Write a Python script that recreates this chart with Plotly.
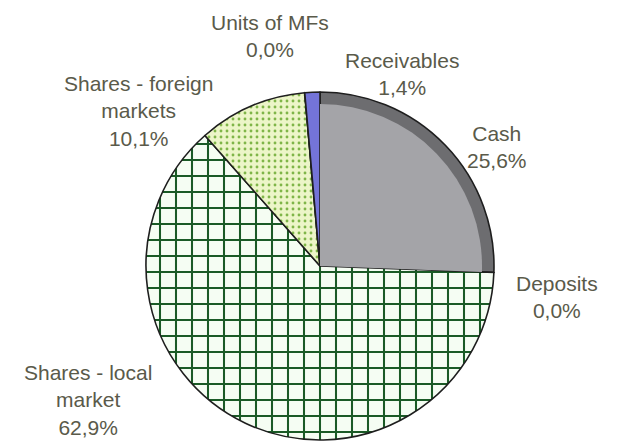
import plotly.graph_objects as go

# ---- data ----
categories = ["Cash", "Deposits", "Shares - local market", "Shares - foreign markets",
              "Units of MFs", "Receivables"]
label_text = ["Cash", "Deposits", "Shares - local<br>market", "Shares - foreign<br>markets",
              "Units of MFs", "Receivables"]
values = [25.6, 0.0, 62.9, 10.1, 0.0, 1.4]

# ---- styling ----
OFF = 8                      # default page body margin
W, H = 619 - OFF, 446 - OFF
CX, CY, R = 320 - OFF, 266 - OFF, 174
R_IN = 162

base_colors = ["#6d6d70", "#a0a0a4", "#f5fdf3", "#ecf5c8", "#a0a0a4", "#7474d8"]
pat_shape = ["", "", "+", ".", "", ""]
pat_fg = ["#6d6d70", "#a0a0a4", "#1a5a26", "#7fb548", "#a0a0a4", "#7474d8"]
pat_bg = ["#6d6d70", "#a0a0a4", "#f5fdf3", "#ecf5c8", "#a0a0a4", "#7474d8"]
pat_size = [8, 8, 16, 6, 8, 8]
pat_sol = [0.2, 0.2, 0.24, 0.18, 0.2, 0.2]

inner_colors = ["#a4a4a8", "rgba(0,0,0,0)", "rgba(0,0,0,0)", "rgba(0,0,0,0)",
                "rgba(0,0,0,0)", "rgba(0,0,0,0)"]

# label centres in page pixels (layout only)
label_pos = [(497, 147), (557, 297), (88, 400), (138, 111), (270, 36), (402, 74)]


def dom(r):
    return dict(x=[(CX - r) / W, (CX + r) / W],
                y=[(H - CY - r) / H, (H - CY + r) / H])


fig = go.Figure()
fig.add_trace(go.Pie(
    labels=categories, values=values, sort=False, direction="clockwise", rotation=0,
    textinfo="none", hoverinfo="label+percent", showlegend=False,
    domain=dom(R),
    marker=dict(colors=base_colors, line=dict(color="#1e1e1e", width=1.6),
                pattern=dict(shape=pat_shape, fgcolor=pat_fg, bgcolor=pat_bg,
                             size=pat_size, solidity=pat_sol, fillmode="replace")),
))
# lighter inner face of the cash slice (3D rim effect)
fig.add_trace(go.Pie(
    labels=categories, values=values, sort=False, direction="clockwise", rotation=0,
    textinfo="none", hoverinfo="skip", showlegend=False,
    domain=dom(R_IN),
    marker=dict(colors=inner_colors, line=dict(width=0)),
))

for name, v, (px, py) in zip(label_text, values, label_pos):
    pct = f"{v:.1f}".replace(".", ",") + "%"
    fig.add_annotation(
        x=(px - OFF) / W, y=1 - (py - OFF) / H, xref="paper", yref="paper",
        text=f"{name}<br>{pct}", showarrow=False,
        xanchor="center", yanchor="middle", align="center",
        font=dict(family="Liberation Sans, Arial, sans-serif", size=21, color="#5a5a4a"),
    )

fig.update_layout(
    width=W, height=H, margin=dict(l=0, r=0, t=0, b=0),
    paper_bgcolor="white", plot_bgcolor="white",
)

fig.write_html("out.html")
